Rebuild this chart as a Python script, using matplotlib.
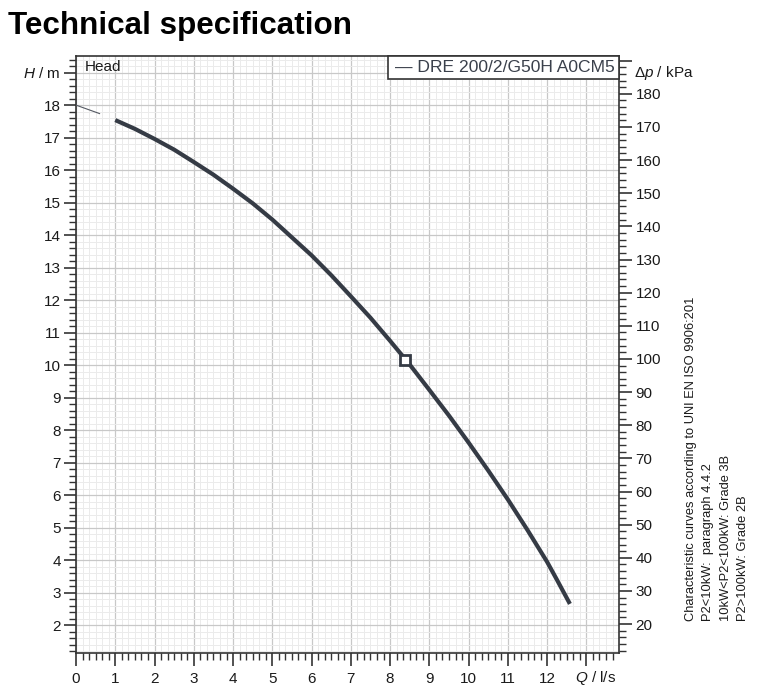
import matplotlib
matplotlib.use("Agg")
import matplotlib.pyplot as plt
from matplotlib.ticker import MultipleLocator, FixedLocator
from matplotlib.patches import Rectangle

plt.rcParams['font.family'] = ['Liberation Sans', 'DejaVu Sans']
plt.rcParams['mathtext.fontset'] = 'custom'
plt.rcParams['mathtext.rm'] = 'Liberation Sans'
plt.rcParams['mathtext.it'] = 'Liberation Sans:italic'

# data
flow_q = [1, 1.5, 2, 2.5, 3, 3.5, 4, 4.5, 5, 5.5, 6, 6.5, 7, 7.5, 8, 8.5,
          9, 9.5, 10, 10.5, 11, 11.5, 12, 12.25, 12.58]
head_h = [17.54, 17.27, 16.96, 16.63, 16.25, 15.86, 15.43, 14.98, 14.48, 13.93,
          13.38, 12.77, 12.12, 11.46, 10.75, 10.02, 9.24, 8.45, 7.62, 6.76,
          5.87, 4.93, 3.95, 3.40, 2.66]
extrap_q = [0, 0.6]
extrap_h = [18.0, 17.74]
duty_q = [8.37]
duty_h = [10.17]
x_ticks = list(range(0, 14))
x_labels = [str(v) for v in range(0, 13)] + ['']
y_ticks = list(range(2, 20))
y_labels = [str(v) for v in range(2, 19)] + ['']
kpa_ticks = list(range(20, 200, 10))
kpa_labels = [str(v) for v in range(20, 190, 10)] + ['']
legend_label = "DRE 200/2/G50H A0CM5"
note_lines = ["Characteristic curves according to UNI EN ISO 9906:201",
              "P2<10kW:  paragraph 4.4.2",
              "10kW<P2<100kW: Grade 3B",
              "P2>100kW: Grade 2B"]

W, H = 767, 700
fig = plt.figure(figsize=(W/100, H/100), dpi=100)
ax = fig.add_axes([76/W, 1-653/H, (619-76)/W, (653-55.7)/H])

curve_col = '#353b45'
ax.plot(flow_q, head_h, color=curve_col, lw=3.0, solid_capstyle='butt',
        solid_joinstyle='round', zorder=5)
ax.plot(extrap_q, extrap_h, color='#555a63', lw=0.8, zorder=5)
ax.plot(duty_q, duty_h, 's', ms=6.5, mfc='white', mec=curve_col, mew=2.0, zorder=6)

ylo, yhi = 1.15, 19.52
ax.set_xlim(0, 13.83)
ax.set_ylim(ylo, yhi)

ax.xaxis.set_major_locator(FixedLocator(x_ticks))
ax.set_xticklabels(x_labels)
ax.xaxis.set_minor_locator(MultipleLocator(1/6))
ax.yaxis.set_major_locator(FixedLocator(y_ticks))
ax.set_yticklabels(y_labels)
ax.yaxis.set_minor_locator(MultipleLocator(0.2))

ax.grid(which='major', color='#c8c8c8', lw=0.9, zorder=0)
ax.grid(which='minor', color='#ebebeb', lw=0.7, zorder=0)
ax.set_axisbelow(True)

tk = dict(direction='out', color='#333333', labelcolor='#1a1a1a', labelsize=11)
ax.tick_params(axis='both', which='major', length=9, width=1.2, **tk)
ax.tick_params(axis='both', which='minor', length=5, width=1.0, direction='out', color='#333333')
ax.tick_params(axis='y', which='major', pad=2)
ax.tick_params(axis='x', which='major', pad=5)
for s in ax.spines.values():
    s.set_color('#333333')
    s.set_linewidth(1.2)

ax2 = ax.twinx()
ax2.set_ylim(ylo*9.81, yhi*9.81)
ax2.yaxis.set_major_locator(FixedLocator(kpa_ticks))
ax2.set_yticklabels(kpa_labels)
ax2.yaxis.set_minor_locator(MultipleLocator(2))
ax2.tick_params(axis='y', which='major', length=9, width=1.2, pad=3, **tk)
ax2.tick_params(axis='y', which='minor', length=5, width=1.0, direction='out', color='#333333')
for s in ax2.spines.values():
    s.set_visible(False)

# axis names
fig.text(60/W, 1-74/H, r'$H$ / m', ha='right', va='center', fontsize=11, color='#1a1a1a')
fig.text(596/W, 1-678/H, r'$Q$ / l/s', ha='center', va='center', fontsize=11, color='#1a1a1a')
fig.text(634/W, 1-73/H, r'$\Delta p$ / kPa', ha='left', va='center', fontsize=11, color='#1a1a1a')

# Head label
ax.text(9/543, 1-11/597.3, 'Head', transform=ax.transAxes, ha='left', va='center',
        fontsize=11, color='#1a1a1a')

# legend box
ax.add_patch(Rectangle(((388.3-76)/543, 1-23.6/597.3), 1-(388.3-76)/543, 23.6/597.3,
                       transform=ax.transAxes, fc='white', ec='#333333', lw=1.2, zorder=7,
                       clip_on=False))
ax.text((395-76)/543, 1-12/597.3, '\u2014 ' + legend_label, transform=ax.transAxes,
        ha='left', va='center', fontsize=12.6, color='#3a404b', zorder=8)

# title
fig.text(8/W, 1-26/H, 'Technical specification', ha='left', va='center',
         fontsize=22.6, fontweight='bold', color='black')

# notes
xs = [691, 708.5, 726, 743]
for x, line in zip(xs, note_lines):
    fig.text(x/W, 1-621/H, line, rotation=90, ha='center', va='bottom',
             fontsize=9.3, color='#1a1a1a')

fig.savefig('out.png', dpi=100)
